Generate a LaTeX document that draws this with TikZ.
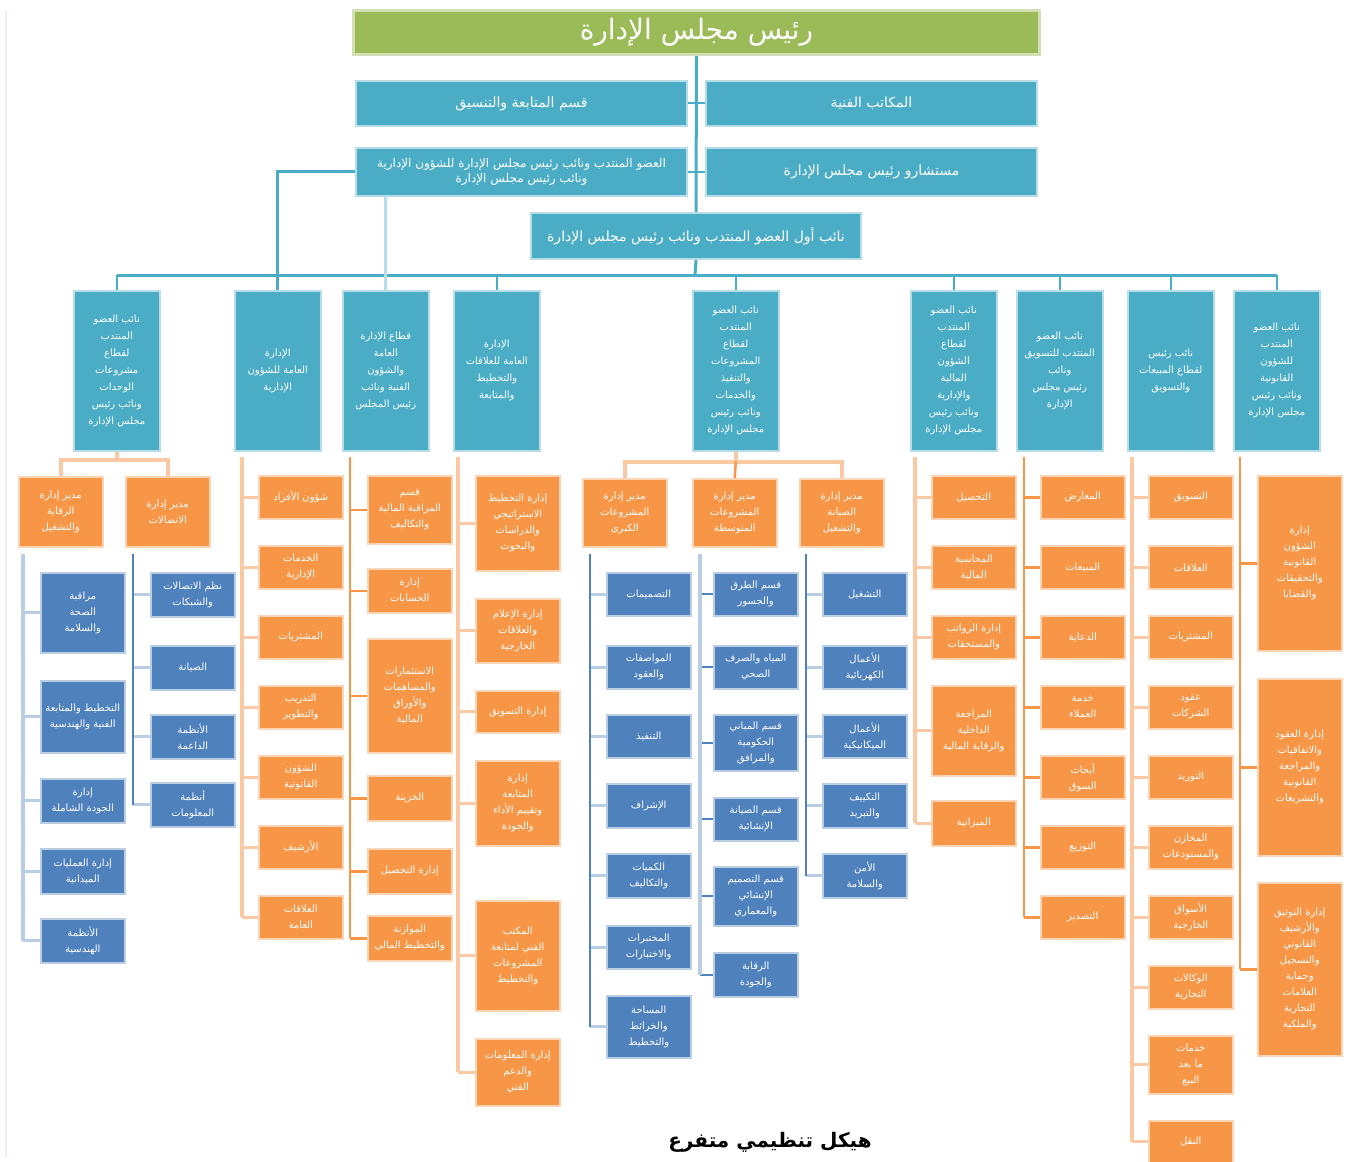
\documentclass[tikz,border=0pt]{standalone}
\usepackage{fontspec}
\newfontfamily\arabicfont[Script=Arabic]{DejaVu Sans}
\TeXXeTstate=1
\newcommand\ar[1]{\beginR#1\endR}
\definecolor{chairgreen}{HTML}{9BBB59}
\definecolor{tealbox}{HTML}{4BACC6}
\definecolor{tealedge}{HTML}{B7DEE8}
\definecolor{orangebox}{HTML}{F79646}
\definecolor{orangeedge}{HTML}{FBD5B5}
\definecolor{orangelight}{HTML}{FAC8A2}
\definecolor{bluebox}{HTML}{4F81BD}
\definecolor{blueedge}{HTML}{B9CDE5}
\tikzset{
  arfont/.style={font=\arabicfont\fontsize{10}{16}\selectfont},
  topbar/.style={fill=chairgreen, draw=chairgreen!45, line width=3, minimum width=686,
    minimum height=44, anchor=north west, text=white, inner sep=0,
    font=\arabicfont\fontsize{28}{30}\selectfont},
  mgrbox/.style={fill=tealbox, draw=tealedge, line width=2, minimum width=331,
    minimum height=45, anchor=north west, align=center, text=white, inner sep=1,
    font=\arabicfont\fontsize{14}{16}\selectfont},
  headbox/.style={fill=tealbox, draw=tealedge, line width=1.5, minimum width=86,
    minimum height=160, anchor=north west, align=center, text=white, inner sep=1,
    font=\arabicfont\fontsize{10}{17}\selectfont},
  obox/.style={fill=orangebox, draw=orangeedge, line width=1.5, minimum width=84,
    anchor=north west, align=center, text=white, inner sep=1, arfont},
  bbox/.style={fill=bluebox, draw=blueedge, line width=1.5, minimum width=84,
    anchor=north west, align=center, text=white, inner sep=1, arfont},
  tealline/.style={draw=tealbox, line width=3},
  teallight/.style={draw=tealedge, line width=3},
  odark/.style={draw=orangebox, line width=2.5},
  olight/.style={draw=orangelight, line width=4},
  bdark/.style={draw=bluebox, line width=2.5},
  blight/.style={draw=blueedge, line width=4},
}
\begin{document}
\begin{tikzpicture}[x=1pt,y=-1pt]
\useasboundingbox (0,0) rectangle (1356,1161);
\draw[blue!8, line width=1.5] (6,10) -- (6,1158);

% board and offices
\node[topbar] (chair) at (352,9) {\ar{رئيس مجلس الإدارة}};
\node[mgrbox] (follow) at (355,80) {\ar{قسم المتابعة والتنسيق}};
\node[mgrbox] (techoff) at (705,80) {\ar{المكاتب الفنية}};
\node[mgrbox, minimum height=48, font=\arabicfont\fontsize{12}{15}\selectfont] (ceo) at (355,147)
  {\ar{العضو المنتدب ونائب رئيس مجلس الإدارة للشؤون الإدارية}\\\ar{ونائب رئيس مجلس الإدارة}};
\node[mgrbox, minimum height=48] (advisor) at (705,147) {\ar{مستشارو رئيس مجلس الإدارة}};
\node[mgrbox, minimum width=330, minimum height=46] (firstdep) at (530,212)
  {\ar{نائب أول العضو المنتدب ونائب رئيس مجلس الإدارة}};
\coordinate (bus) at (695,275);
\draw[tealline] (chair.south) -- (firstdep.north);
\draw[tealline] (firstdep.south) -- (bus);
\draw[tealline, line width=2] (follow.east) -- (techoff.west);
\draw[tealline, line width=2] (ceo.east) -- (advisor.west);

% sector heads
\foreach \xx/\k/\txt in {
  73/1/{\ar{نائب العضو}\\\ar{المنتدب}\\\ar{لقطاع}\\\ar{مشروعات}\\\ar{الوحدات}\\\ar{ونائب رئيس}\\\ar{مجلس الإدارة}},
  234/2/{\ar{الإدارة}\\\ar{العامة للشؤون}\\\ar{الإدارية}},
  342/3/{\ar{قطاع الإدارة}\\\ar{العامة}\\\ar{والشؤون}\\\ar{الفنية ونائب}\\\ar{رئيس المجلس}},
  453/4/{\ar{الإدارة}\\\ar{العامة للعلاقات}\\\ar{والتخطيط}\\\ar{والمتابعة}},
  692/5/{\ar{نائب العضو}\\\ar{المنتدب}\\\ar{لقطاع}\\\ar{المشروعات}\\\ar{والتنفيذ}\\\ar{والخدمات}\\\ar{ونائب رئيس}\\\ar{مجلس الإدارة}},
  910/6/{\ar{نائب العضو}\\\ar{المنتدب}\\\ar{لقطاع}\\\ar{الشؤون}\\\ar{المالية}\\\ar{والإدارية}\\\ar{ونائب رئيس}\\\ar{مجلس الإدارة}},
  1016/7/{\ar{نائب العضو}\\\ar{المنتدب للتسويق}\\\ar{ونائب}\\\ar{رئيس مجلس}\\\ar{الإدارة}},
  1127/8/{\ar{نائب رئيس}\\\ar{لقطاع المبيعات}\\\ar{والتسويق}},
  1233/9/{\ar{نائب العضو}\\\ar{المنتدب}\\\ar{للشؤون}\\\ar{القانونية}\\\ar{ونائب رئيس}\\\ar{مجلس الإدارة}}}
  \node[headbox] (h\k) at (\xx,290) {\txt};
\draw[tealline] (h1.north |- bus) -- (h9.north |- bus);
\foreach \k in {1,...,9}
  \draw[tealline, line width=2.5] (h\k.north |- bus) -- (h\k.north);
\draw[tealline] (ceo.west) -| (h2.north);
\draw[teallight] (ceo.south -| h3.north) -- (h3.north);

% sector 1
\node[obox, minimum height=70] (o1a) at (18,476) {\ar{مدير إدارة}\\\ar{الرقابة}\\\ar{والتشغيل}};
\node[obox, minimum height=70] (o1b) at (125,476) {\ar{مدير إدارة}\\\ar{الاتصالات}};
\draw[olight] (h1.south) -- ++(0,8) coordinate (j1);
\draw[olight] (o1a.north) |- (j1) -| (o1b.north);
\coordinate (t1a) at ([xshift=5pt, yshift=-6pt]o1a.south west);
\foreach \yy/\hh/\txt [count=\i] in {
  572/80/{\ar{مراقبة}\\\ar{الصحة}\\\ar{والسلامة}},
  680/72/{\ar{التخطيط والمتابعة}\\\ar{الفنية والهندسية}},
  778/44/{\ar{إدارة}\\\ar{الجودة الشاملة}},
  848/45/{\ar{إدارة العمليات}\\\ar{الميدانية}},
  918/44/{\ar{الأنظمة}\\\ar{الهندسية}}} {
  \node[bbox, minimum height=\hh] (b1a\i) at (40,\yy) {\txt};
  \draw[blight, line width=3] (t1a |- b1a\i.west) -- (b1a\i.west);
}
\draw[blight] (t1a) -- (t1a |- b1a5.west);
\coordinate (t1b) at ([xshift=8pt, yshift=-6pt]o1b.south west);
\foreach \yy/\hh/\txt [count=\i] in {
  572/44/{\ar{نظم الاتصالات}\\\ar{والشبكات}},
  645/44/{\ar{الصيانة}},
  714/44/{\ar{الأنظمة}\\\ar{الداعمة}},
  782/44/{\ar{أنظمة}\\\ar{المعلومات}}} {
  \node[bbox, minimum height=\hh] (b1b\i) at (150,\yy) {\txt};
  \draw[blight, line width=3] (t1b |- b1b\i.west) -- (b1b\i.west);
}
\draw[bdark] (t1b) -- (t1b |- b1b4.west);

% sector 2
\coordinate (t2) at ([xshift=8pt, yshift=-5pt]h2.south west);
\foreach \yy/\hh/\txt [count=\i] in {
  475/43/{\ar{شؤون الأفراد}},
  545/43/{\ar{الخدمات}\\\ar{الإدارية}},
  615/43/{\ar{المشتريات}},
  685/43/{\ar{التدريب}\\\ar{والتطوير}},
  755/43/{\ar{الشؤون}\\\ar{القانونية}},
  825/43/{\ar{الأرشيف}},
  895/43/{\ar{العلاقات}\\\ar{العامة}}} {
  \node[obox, minimum height=\hh] (c2s\i) at (258,\yy) {\txt};
  \draw[olight, line width=3] (t2 |- c2s\i.west) -- (c2s\i.west);
}
\draw[olight] (t2) -- (t2 |- c2s7.west);

% sector 3
\coordinate (t3) at ([xshift=8pt, yshift=-5pt]h3.south west);
\foreach \yy/\hh/\txt [count=\i] in {
  475/68/{\ar{قسم}\\\ar{المراقبة المالية}\\\ar{والتكاليف}},
  568/44/{\ar{إدارة}\\\ar{الحسابات}},
  638/114/{\ar{الاستثمارات}\\\ar{والمساهمات}\\\ar{والأوراق}\\\ar{المالية}},
  775/45/{\ar{الخزينة}},
  848/45/{\ar{إدارة التحصيل}},
  915/45/{\ar{الموازنة}\\\ar{والتخطيط المالي}}} {
  \node[obox, minimum height=\hh] (c3s\i) at (367,\yy) {\txt};
  \draw[odark] (t3 |- c3s\i.west) -- (c3s\i.west);
}
\draw[odark] (t3) -- (t3 |- c3s6.west);

% sector 4
\coordinate (t4) at ([xshift=5pt, yshift=-5pt]h4.south west);
\foreach \yy/\hh/\txt [count=\i] in {
  475/95/{\ar{إدارة التخطيط}\\\ar{الاستراتيجي}\\\ar{والدراسات}\\\ar{والبحوث}},
  598/64/{\ar{إدارة الإعلام}\\\ar{والعلاقات}\\\ar{الخارجية}},
  690/42/{\ar{إدارة التسويق}},
  760/85/{\ar{إدارة}\\\ar{المتابعة}\\\ar{وتقييم الأداء}\\\ar{والجودة}},
  900/110/{\ar{المكتب}\\\ar{الفني لمتابعة}\\\ar{المشروعات}\\\ar{والتخطيط}},
  1038/67/{\ar{إدارة المعلومات}\\\ar{والدعم}\\\ar{الفني}}} {
  \node[obox, minimum height=\hh] (c4s\i) at (475,\yy) {\txt};
  \draw[olight, line width=3] (t4 |- c4s\i.west) -- (c4s\i.west);
}
\draw[olight] (t4) -- (t4 |- c4s6.west);

% sector 5
\node[obox, minimum height=68] (o5a) at (582,478) {\ar{مدير إدارة}\\\ar{المشروعات}\\\ar{الكبرى}};
\node[obox, minimum height=68] (o5b) at (692,478) {\ar{مدير إدارة}\\\ar{المشروعات}\\\ar{المتوسطة}};
\node[obox, minimum height=68] (o5c) at (799,478) {\ar{مدير إدارة}\\\ar{الصيانة}\\\ar{والتشغيل}};
\draw[olight] (h5.south) -- ++(0,10) coordinate (j5);
\draw[olight] (o5a.north) |- (j5) -| (o5c.north);
\draw[odark] (j5) -- (o5b.north);
\coordinate (t5a) at ([xshift=8pt, yshift=-6pt]o5a.south west);
\foreach \yy/\hh/\txt [count=\i] in {
  572/43/{\ar{التصميمات}},
  645/43/{\ar{المواصفات}\\\ar{والعقود}},
  714/43/{\ar{التنفيذ}},
  783/44/{\ar{الإشراف}},
  853/44/{\ar{الكميات}\\\ar{والتكاليف}},
  925/43/{\ar{المختبرات}\\\ar{والاختبارات}},
  995/62/{\ar{المساحة}\\\ar{والخرائط}\\\ar{والتخطيط}}} {
  \node[bbox, minimum height=\hh] (b5a\i) at (606,\yy) {\txt};
  \draw[blight, line width=3] (t5a |- b5a\i.west) -- (b5a\i.west);
}
\draw[bdark] (t5a) -- (t5a |- b5a7.west);
\coordinate (t5b) at ([xshift=8pt, yshift=-6pt]o5b.south west);
\foreach \yy/\hh/\txt [count=\i] in {
  572/43/{\ar{قسم الطرق}\\\ar{والجسور}},
  645/43/{\ar{المياه والصرف}\\\ar{الصحي}},
  714/56/{\ar{قسم المباني}\\\ar{الحكومية}\\\ar{والمرافق}},
  797/43/{\ar{قسم الصيانة}\\\ar{الإنشائية}},
  866/59/{\ar{قسم التصميم}\\\ar{الإنشائي}\\\ar{والمعماري}},
  952/44/{\ar{الرقابة}\\\ar{والجودة}}} {
  \node[bbox, minimum height=\hh] (b5b\i) at (713,\yy) {\txt};
  \draw[bdark, line width=2] (t5b |- b5b\i.west) -- (b5b\i.west);
}
\draw[blight] (t5b) -- (t5b |- b5b6.west);
\coordinate (t5c) at ([xshift=7pt, yshift=-6pt]o5c.south west);
\foreach \yy/\hh/\txt [count=\i] in {
  572/43/{\ar{التشغيل}},
  645/43/{\ar{الأعمال}\\\ar{الكهربائية}},
  714/43/{\ar{الأعمال}\\\ar{الميكانيكية}},
  783/44/{\ar{التكييف}\\\ar{والتبريد}},
  853/44/{\ar{الأمن}\\\ar{والسلامة}}} {
  \node[bbox, minimum height=\hh] (b5c\i) at (822,\yy) {\txt};
  \draw[blight, line width=3] (t5c |- b5c\i.west) -- (b5c\i.west);
}
\draw[bdark] (t5c) -- (t5c |- b5c5.west);

% sector 6
\coordinate (t6) at ([xshift=5pt, yshift=-5pt]h6.south west);
\foreach \yy/\hh/\txt [count=\i] in {
  475/43/{\ar{التحصيل}},
  545/43/{\ar{المحاسبة}\\\ar{المالية}},
  615/43/{\ar{إدارة الرواتب}\\\ar{والمستحقات}},
  685/90/{\ar{المراجعة}\\\ar{الداخلية}\\\ar{والرقابة المالية}},
  800/45/{\ar{الميزانية}}} {
  \node[obox, minimum height=\hh] (c6s\i) at (931,\yy) {\txt};
  \draw[olight, line width=3] (t6 |- c6s\i.west) -- (c6s\i.west);
}
\draw[olight] (t6) -- (t6 |- c6s5.west);

% sector 7
\coordinate (t7) at ([xshift=8pt, yshift=-5pt]h7.south west);
\foreach \yy/\hh/\txt [count=\i] in {
  475/43/{\ar{المعارض}},
  545/43/{\ar{المبيعات}},
  615/43/{\ar{الدعاية}},
  685/43/{\ar{خدمة}\\\ar{العملاء}},
  755/43/{\ar{أبحاث}\\\ar{السوق}},
  825/43/{\ar{التوزيع}},
  895/43/{\ar{التصدير}}} {
  \node[obox, minimum height=\hh] (c7s\i) at (1040,\yy) {\txt};
  \draw[odark] (t7 |- c7s\i.west) -- (c7s\i.west);
}
\draw[odark] (t7) -- (t7 |- c7s7.west);

% sector 8
\coordinate (t8) at ([xshift=5pt, yshift=-5pt]h8.south west);
\foreach \yy/\hh/\txt [count=\i] in {
  475/43/{\ar{التسويق}},
  545/43/{\ar{العلاقات}},
  615/43/{\ar{المشتريات}},
  685/43/{\ar{عقود}\\\ar{الشركات}},
  755/43/{\ar{التوريد}},
  825/43/{\ar{المخازن}\\\ar{والمستودعات}},
  895/43/{\ar{الأسواق}\\\ar{الخارجية}},
  965/43/{\ar{الوكالات}\\\ar{التجارية}},
  1035/58/{\ar{خدمات}\\\ar{ما بعد}\\\ar{البيع}},
  1120/42/{\ar{النقل}}} {
  \node[obox, minimum height=\hh] (c8s\i) at (1148,\yy) {\txt};
  \draw[olight, line width=3] (t8 |- c8s\i.west) -- (c8s\i.west);
}
\draw[olight] (t8) -- (t8 |- c8s10.west);

% sector 9
\coordinate (t9) at ([xshift=7pt, yshift=-5pt]h9.south west);
\foreach \yy/\hh/\txt [count=\i] in {
  475/175/{\ar{إدارة}\\\ar{الشؤون}\\\ar{القانونية}\\\ar{والتحقيقات}\\\ar{والقضايا}},
  678/177/{\ar{إدارة العقود}\\\ar{والاتفاقيات}\\\ar{والمراجعة}\\\ar{القانونية}\\\ar{والتشريعات}},
  882/173/{\ar{إدارة التوثيق}\\\ar{والأرشيف}\\\ar{القانوني}\\\ar{والتسجيل}\\\ar{وحماية}\\\ar{العلامات}\\\ar{التجارية}\\\ar{والملكية}}} {
  \node[obox, minimum height=\hh] (c9s\i) at (1257,\yy) {\txt};
  \draw[odark] (t9 |- c9s\i.west) -- (c9s\i.west);
}
\draw[odark] (t9) -- (t9 |- c9s3.west);

% caption
\node[font=\arabicfont\bfseries\fontsize{20}{22}\selectfont] (caption) at (770,1142)
  {\ar{هيكل تنظيمي متفرع}};
\end{tikzpicture}
\end{document}
